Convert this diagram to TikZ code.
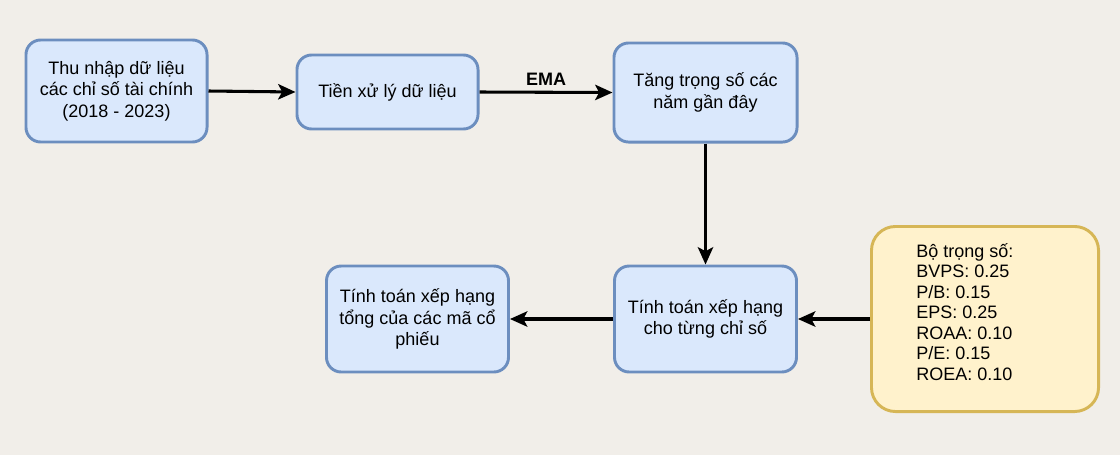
\documentclass[tikz,border=0pt]{standalone}
\usepackage{fontspec}
\setmainfont{Liberation Sans}
\usepackage{xcolor}
\usetikzlibrary{arrows.meta,positioning}
\definecolor{bgpaper}{HTML}{F1EEE9}
\definecolor{bluefill}{HTML}{DAE8FC}
\definecolor{blueline}{HTML}{6C8EBF}
\definecolor{yelfill}{HTML}{FFF2CC}
\definecolor{yelline}{HTML}{D6B656}
\tikzset{
  dbox/.style={draw=blueline, fill=bluefill, line width=2.2pt, rounded corners=11pt, align=center, inner sep=3pt, font=\fontsize{13.5}{16}\selectfont},
  dweight/.style={draw=yelline, fill=yelfill, line width=2.2pt, rounded corners=18pt, minimum width=170.3pt, minimum height=138.8pt},
  dnote/.style={align=left, inner sep=0pt, font=\fontsize{13.5}{15.4}\selectfont},
  dlabel/.style={font=\fontsize{13.5}{15}\selectfont\bfseries, inner sep=1pt},
  darrow/.style={-{Stealth[length=13pt, width=11.5pt, inset=3pt]}, line width=2.3pt}
}
\begin{document}
\begin{tikzpicture}[x=0.75pt,y=-0.75pt]
\useasboundingbox[fill=bgpaper] (0,0) rectangle (1120,455);
\node[dbox, minimum width=135.8pt, minimum height=76.5pt] (collect) at (116.5,91) {Thu nhập dữ liệu\\các chỉ số tài chính\\(2018 - 2023)};
\node[dbox, minimum width=135.8pt, minimum height=55.5pt] (prep) at (387.5,92) {Tiền xử lý dữ liệu};
\node[dbox, minimum width=137.3pt, minimum height=74.3pt] (boost) at (705.5,92.5) {Tăng trọng số các\\năm gần đây};
\node[dbox, minimum width=136.5pt, minimum height=79.5pt] (rankeach) at (705.5,319) {Tính toán xếp hạng\\cho từng chỉ số};
\node[dbox, minimum width=136.5pt, minimum height=79.5pt] (ranktotal) at (417.5,319) {Tính toán xếp hạng\\tổng của các mã cổ\\phiếu};
\node[dweight] (weights) at (985,319) {};
\node[dnote, anchor=west] (weightlist) at (916,312) {Bộ trọng số:\\BVPS: 0.25\\P/B: 0.15\\EPS: 0.25\\ROAA: 0.10\\P/E: 0.15\\ROEA: 0.10};
\draw[darrow] (collect.east) -- (prep.west);
\draw[darrow] (prep.east) -- node[dlabel, above=3pt] (ema) {EMA} (boost.west);
\draw[darrow] (boost.south) -- (rankeach.north);
\draw[darrow] (weights.west) -- (rankeach.east);
\draw[darrow] (rankeach.west) -- (ranktotal.east);
\end{tikzpicture}
\end{document}
